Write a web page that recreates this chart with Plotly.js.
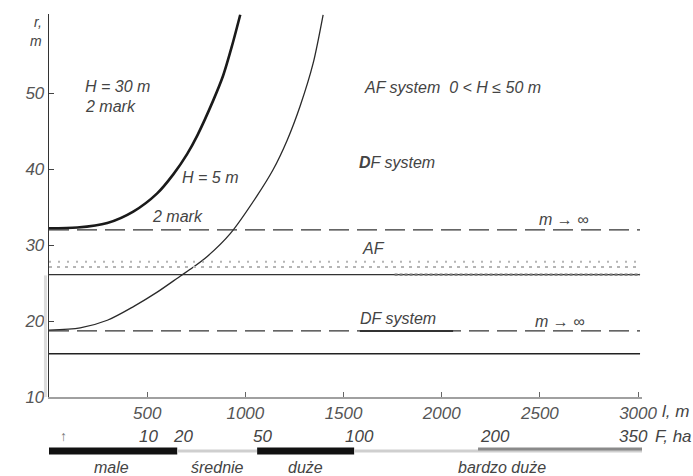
<!DOCTYPE html>
<html>
<head>
<meta charset="utf-8">
<script src="https://cdn.plot.ly/plotly-3.0.1.min.js"></script>
<style>html,body{margin:0;padding:0;background:#fff;}#chart{width:693px;height:476px;}</style>
</head>
<body>
<div id="chart"></div>
<script>
// ---- data ----
const lTicks = [500, 1000, 1500, 2000, 2500, 3000];
const lTickText = ['500', '1000', '1500', '2000', '2500', '3000'];
const rTicks = [10, 20, 30, 40, 50];
const rTickText = ['10', '20', '30', '40', '50'];

// H = 30 m, 2 mark
const h30L = [0, 144, 297, 429, 551, 633, 704, 755, 836, 887, 933, 974];
const h30R = [32.2, 32.3, 32.9, 34.4, 36.8, 39.3, 42.0, 44.4, 49.0, 52.3, 56.3, 60.3];
// H = 5 m, 2 mark
const h5L = [0, 159, 297, 430, 551, 668, 719, 806, 923, 1060, 1141, 1213, 1279, 1345, 1396];
const h5R = [18.8, 19.1, 20.1, 21.9, 23.8, 25.9, 26.8, 28.5, 31.5, 36.5, 39.9, 43.8, 48.3, 53.9, 60.3];

// horizontal levels (r, m)
const afLimitR = 32.0;   // AF, m -> inf (dashed)
const afLevelR = 26.1;   // AF (solid)
const afDotsR = [27.1, 27.8]; // AF stippled band
const dfLimitR = 18.7;   // DF, m -> inf (dashed)
const dfLevelR = 15.7;   // DF system (solid)
const lineEndL = 3010;
const dfUnderlineL = [1583, 2058];

// F, ha scale under the l axis
const fLabels = ['10', '20', '50', '100', '200', '350'];
const fLabelL = [506, 683, 1086, 1580, 2271, 2979];
const sizeClasses = ['male', 'średnie', 'duże', 'bardzo duże'];
const sizeBoundsL = [-20, 653, 1060, 1554, 3060];
const bigGrayL = [2185, 3060];

// ---- chart ----
const FONT = 'Liberation Sans, Arial, sans-serif';
const INK = '#1a1a1a';
const TXT = '#444';

const traces = [
  {x: h30L, y: h30R, mode: 'lines', line: {color: INK, width: 2.6, shape: 'spline', smoothing: 0.8}, hoverinfo: 'skip'},
  {x: h5L, y: h5R, mode: 'lines', line: {color: '#2a2a2a', width: 1.3, shape: 'spline', smoothing: 0.8}, hoverinfo: 'skip'}
];

const shapes = [];
function hline(r, x0, x1, color, width, dash) {
  shapes.push({type: 'line', xref: 'x', yref: 'y', x0: x0, x1: x1, y0: r, y1: r,
    line: {color: color, width: width, dash: dash || 'solid'}});
}
afDotsR.forEach((r, i) => hline(r, 0, lineEndL, '#b5b5b5', 2, i ? '2px,7px' : '3px,5px'));
hline(afLimitR, 0, lineEndL, '#333', 1.3, '20px,8px');
hline(afLevelR, 0, lineEndL, '#333', 1.4);
hline(afLevelR, 1760, lineEndL, '#777', 2.2, '3px,2px');
hline(dfLimitR, 0, lineEndL, '#333', 1.3, '20px,8px');
hline(dfLimitR, dfUnderlineL[0], dfUnderlineL[1], '#333', 2);
hline(dfLevelR, 0, lineEndL, '#222', 1.6);

// size-class bar below the axis
const barY = -0.141;
for (let i = 0; i < sizeClasses.length; i++) {
  const dark = i % 2 === 0;
  shapes.push({type: 'line', xref: 'x', yref: 'paper', x0: sizeBoundsL[i], x1: sizeBoundsL[i + 1], y0: barY, y1: barY,
    line: {color: dark ? '#111' : '#cfcfcf', width: dark ? 7 : 3}});
}
shapes.push({type: 'line', xref: 'x', yref: 'paper', x0: bigGrayL[0], x1: bigGrayL[1], y0: -0.136, y1: -0.136,
  line: {color: '#8a8a8a', width: 3}});
// faint scan strip left of the axis
shapes.push({type: 'line', xref: 'paper', yref: 'y', x0: -0.006, x1: -0.006, y0: 10, y1: 26,
  line: {color: '#dcdcdc', width: 3}});

const ann = [];
function txt(x, y, s, opts) {
  ann.push(Object.assign({x: x, y: y, text: s, showarrow: false, xanchor: 'left', yanchor: 'middle',
    font: {family: FONT, size: 16, color: TXT, style: 'italic'}}, opts || {}));
}
txt(175, 50.8, 'H = 30 m');
txt(175, 48.2, '2 mark');
txt(669, 38.9, 'H = 5 m');
txt(516, 33.7, '2 mark');
txt(1595, 50.7, 'AF system  0 &lt; H ≤ 50 m');
txt(1569, 40.9, '<b>D</b>F system');
txt(2485, 33.3, 'm → ∞');
txt(1584, 29.5, 'AF');
txt(1574, 20.3, 'DF system');
txt(2465, 19.9, 'm → ∞');
// axis titles
const titleFont = {family: FONT, size: 14, color: TXT, style: 'italic'};
txt(-0.008, 0.978, 'r,', {xref: 'paper', yref: 'paper', xanchor: 'right', font: titleFont});
txt(-0.008, 0.930, 'm', {xref: 'paper', yref: 'paper', xanchor: 'right', font: titleFont});
txt(1.03, -0.039, 'l, m', {xref: 'paper', yref: 'paper', font: {family: FONT, size: 17, color: TXT, style: 'italic'}});
// F scale labels
fLabels.forEach((s, i) => txt(fLabelL[i], -0.104, s, {yref: 'paper', xanchor: 'center',
  font: {family: FONT, size: 17, color: TXT, style: 'italic'}}));
txt(1.018, -0.104, 'F, ha', {xref: 'paper', yref: 'paper', font: {family: FONT, size: 17, color: TXT, style: 'italic'}});
// size class labels
sizeClasses.forEach((s, i) => txt((sizeBoundsL[i] + sizeBoundsL[i + 1]) / 2, -0.185, s, {yref: 'paper', xanchor: 'center',
  font: {family: FONT, size: 16, color: TXT, style: 'italic'}}));
txt(73, -0.102, '↑', {yref: 'paper', xanchor: 'center', font: {family: FONT, size: 14, color: '#777'}});

const layout = {
  width: 693, height: 476,
  margin: {l: 48.7, r: 50.9, t: 14, b: 79, pad: 0},
  paper_bgcolor: '#fff', plot_bgcolor: '#fff',
  showlegend: false,
  xaxis: {range: [0, 3020], showgrid: false, zeroline: false, showline: true, linecolor: '#a0a0a0', linewidth: 1.5,
    ticks: 'inside', ticklen: 5, tickcolor: '#666', tickvals: lTicks, ticktext: lTickText,
    tickfont: {family: FONT, size: 17, color: '#555', style: 'italic'}, fixedrange: true},
  yaxis: {range: [10, 60.4], showgrid: false, zeroline: false, showline: true, linecolor: '#333', linewidth: 1.3,
    ticks: 'inside', ticklen: 5, tickcolor: '#444', tickvals: rTicks, ticktext: rTickText,
    tickfont: {family: FONT, size: 17, color: '#555', style: 'italic'}, fixedrange: true},
  shapes: shapes,
  annotations: ann
};

Plotly.newPlot('chart', traces, layout, {displayModeBar: false, staticPlot: true});
</script>
</body>
</html>
